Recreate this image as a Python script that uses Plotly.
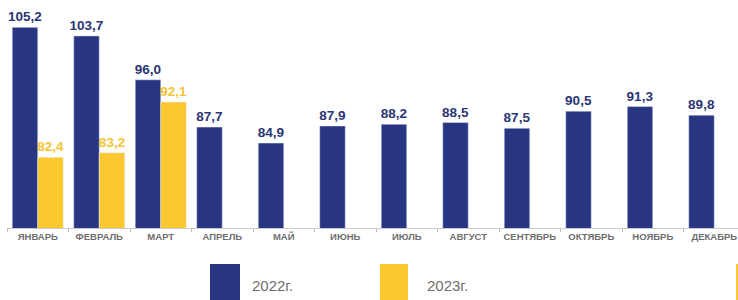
import plotly.graph_objects as go

months = ["ЯНВАРЬ", "ФЕВРАЛЬ", "МАРТ", "АПРЕЛЬ", "МАЙ", "ИЮНЬ", "ИЮЛЬ",
          "АВГУСТ", "СЕНТЯБРЬ", "ОКТЯБРЬ", "НОЯБРЬ", "ДЕКАБРЬ"]
values_2022 = [105.2, 103.7, 96.0, 87.7, 84.9, 87.9, 88.2, 88.5, 87.5, 90.5, 91.3, 89.8]
values_2023 = [82.4, 83.2, 92.1, None, None, None, None, None, None, None, None, None]
series_names = ["2022г.", "2023г."]

NAVY = "#283583"
GOLD = "#FDC82F"

fig = go.Figure()
fig.add_trace(go.Bar(
    x=months, y=values_2022, name=series_names[0], marker_color=NAVY,
    texttemplate="%{y:.1f}", textposition="outside", cliponaxis=False,
    constraintext="none",
    textfont=dict(family="Liberation Sans, Arial", size=13.5, color="#2B3575", weight="bold"),
    showlegend=False,
))
fig.add_trace(go.Bar(
    x=months, y=values_2023, name=series_names[1], marker_color=GOLD,
    texttemplate="%{y:.1f}", textposition="outside", cliponaxis=False,
    constraintext="none",
    textfont=dict(family="Liberation Sans, Arial", size=13.5, color="#F4C332", weight="bold"),
    showlegend=False,
))

fig.update_layout(
    width=738, height=300,
    margin=dict(l=7, r=0, t=0, b=72, autoexpand=False),
    paper_bgcolor="white", plot_bgcolor="white",
    barmode="group", bargap=0.17, bargroupgap=0,
    separators=", ",
    xaxis=dict(
        range=[-0.5, 11.386], showline=True, linecolor="#CCCCCC", linewidth=1,
        ticks="outside", tickson="boundaries", ticklen=3, tickcolor="#BBBBBB",
        tickangle=0, automargin=False,
        tickfont=dict(family="Liberation Sans, Arial", size=9.5, color="#6E6E6E", weight="bold"),
        showgrid=False, zeroline=False,
    ),
    yaxis=dict(range=[70, 110], visible=False, showgrid=False, automargin=False),
)

# Custom legend (large squares below the chart)
legend_items = [(series_names[0], NAVY, 210, 240, 250),
                (series_names[1], GOLD, 380, 408, 425)]
for name, col, x0, x1, tx in legend_items:
    fig.add_shape(type="rect", xref="paper", yref="paper",
                  x0=(x0 - 7) / 731, x1=(x1 - 7) / 731,
                  y0=(228 - 303) / 228, y1=(228 - 264) / 228,
                  fillcolor=col, line_width=0, layer="above")
    fig.add_annotation(xref="paper", yref="paper", x=(tx - 7) / 731, y=(228 - 285) / 228,
                       text=name, showarrow=False, xanchor="left", yanchor="middle",
                       font=dict(family="Liberation Sans, Arial", size=15, color="#6E6E6E"))
# partially visible third legend swatch at the right edge
fig.add_shape(type="rect", xref="paper", yref="paper",
              x0=(736 - 7) / 731, x1=(745 - 7) / 731,
              y0=(228 - 303) / 228, y1=(228 - 264) / 228,
              fillcolor=GOLD, line_width=0, layer="above")

fig.write_html("out.html", config={"displayModeBar": False},
               post_script="document.body.style.margin='0px';document.body.style.overflow='hidden';")
